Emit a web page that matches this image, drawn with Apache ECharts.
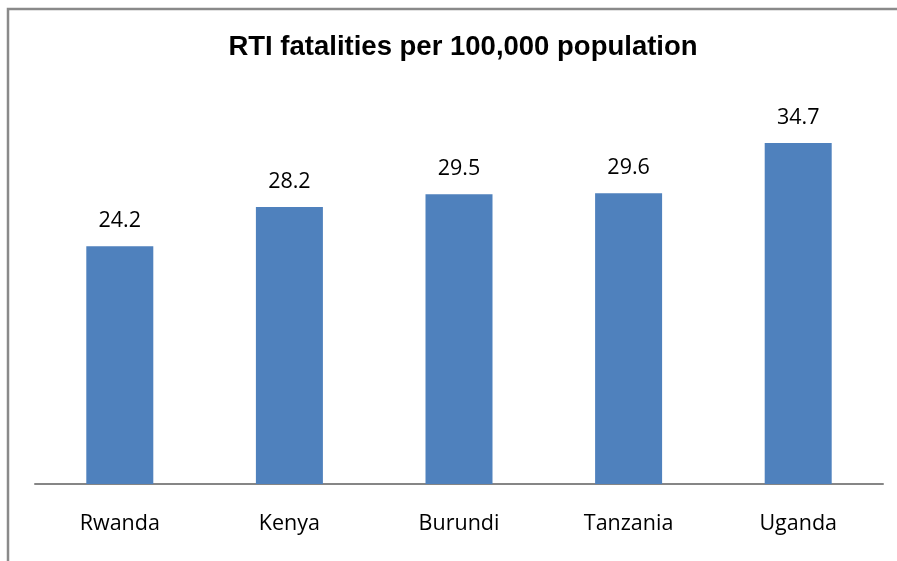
<!DOCTYPE html>
<html>
<head>
<meta charset="utf-8">
<script src="https://cdn.jsdelivr.net/npm/echarts@6/dist/echarts.min.js"></script>
<style>
  html, body { margin: 0; padding: 0; background: #fff; }
  #chart { width: 897px; height: 561px; }
</style>
</head>
<body>
<div id="chart"></div>
<script>
// Road traffic injury fatalities per 100,000 population, East African countries
const countries = ['Rwanda', 'Kenya', 'Burundi', 'Tanzania', 'Uganda'];
const fatalities = [24.2, 28.2, 29.5, 29.6, 34.7];

const chart = echarts.init(document.getElementById('chart'));

chart.setOption({
  backgroundColor: '#ffffff',
  animation: false,
  title: {
    text: 'RTI fatalities per 100,000 population',
    left: 458,
    top: 28,
    textAlign: 'center',
    textStyle: {
      fontFamily: 'Liberation Sans, Arial, sans-serif',
      fontWeight: 'bold',
      fontSize: 27.5,
      color: '#000000'
    }
  },
  graphic: [{
    type: 'rect',
    shape: { x: 8, y: 9, width: 1000, height: 1000 },
    style: { fill: 'none', stroke: '#8a8a8a', lineWidth: 2.5 },
    silent: true
  }],
  grid: { left: 35, right: 14, top: 91, bottom: 77 },
  xAxis: {
    type: 'category',
    data: countries,
    axisLine: { show: true, lineStyle: { color: '#868686', width: 2 } },
    axisTick: { show: false },
    axisLabel: {
      margin: 29,
      fontFamily: 'Open Sans, sans-serif',
      fontSize: 21.5,
      color: '#000000'
    }
  },
  yAxis: {
    type: 'value',
    min: 0,
    max: 40,
    interval: 5,
    show: false,
    splitLine: { show: false }
  },
  series: [{
    type: 'bar',
    data: fatalities,
    barWidth: 67,
    itemStyle: { color: '#4F81BD' },
    label: {
      show: true,
      position: 'top',
      distance: 14,
      fontFamily: 'Open Sans, sans-serif',
      fontSize: 21.5,
      color: '#000000',
      formatter: p => p.value.toFixed(1)
    }
  }]
});
</script>
</body>
</html>
